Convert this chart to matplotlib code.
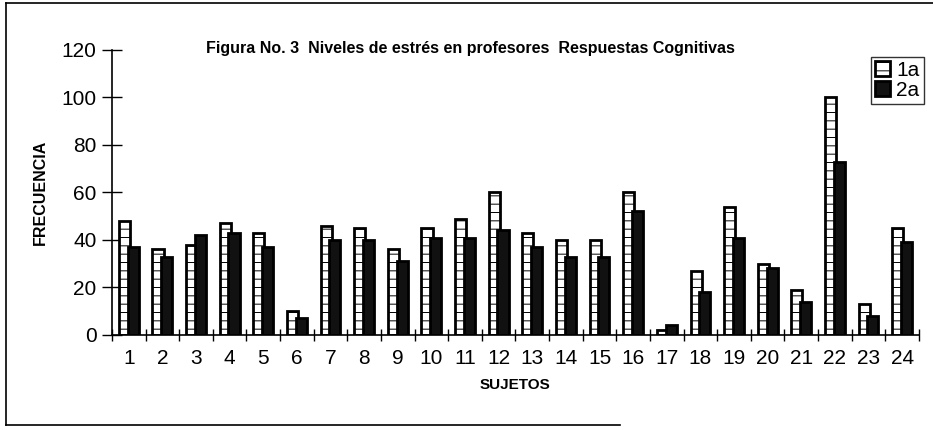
import matplotlib
matplotlib.use("Agg")
import matplotlib.pyplot as plt
from matplotlib.lines import Line2D
import numpy as np

plt.rcParams['font.family'] = ['Liberation Sans', 'DejaVu Sans']
plt.rcParams['hatch.linewidth'] = 0.7

# Datos
sujetos = [str(i) for i in range(1, 25)]
primera = [48, 36, 38, 47, 43, 10, 46, 45, 36, 45, 49, 60,
           43, 40, 40, 60, 2, 27, 54, 30, 19, 100, 13, 45]
segunda = [37, 33, 42, 43, 37, 7, 40, 40, 31, 41, 41, 44,
           37, 33, 33, 52, 4, 18, 41, 28, 14, 73, 8, 39]
yticks = [0, 20, 40, 60, 80, 100, 120]

fig = plt.figure(figsize=(9.33, 4.30), dpi=100)
ax = fig.add_axes([0.120, 0.221, 0.865, 0.663])

x = np.arange(1, len(sujetos) + 1)
w = 0.33
ax.bar(x - 0.13, primera, w, facecolor='white', edgecolor='black',
       linewidth=2.0, hatch='--', label='1a', zorder=2)
ax.bar(x + 0.13, segunda, w, facecolor='#111111', edgecolor='black',
       linewidth=2.0, label='2a', zorder=3)

ax.set_xlim(0.5, 24.5)
ax.set_ylim(0, 120)
ax.set_yticks(yticks)
ax.set_xticks(x)
ax.set_xticklabels(sujetos)
ax.set_xticks(np.arange(0.5, 25, 1), minor=True)
ax.tick_params(axis='x', which='major', length=0, pad=10, labelsize=15)
ax.tick_params(axis='x', which='minor', length=8, direction='inout', width=1)
ax.tick_params(axis='y', length=14, direction='inout', width=1, pad=4, labelsize=15)

for s in ['top', 'right']:
    ax.spines[s].set_visible(False)
ax.spines['left'].set_linewidth(1.2)
ax.spines['bottom'].set_linewidth(1.2)

ax.set_ylabel('FRECUENCIA', fontsize=11.5, fontweight='bold', labelpad=10)
ax.set_xlabel('SUJETOS', fontsize=11, fontweight='bold', labelpad=7)
fig.text(0.504, 0.888, 'Figura No. 3  Niveles de estrés en profesores  Respuestas Cognitivas',
         ha='center', va='center', fontsize=11.5, fontweight='bold')

leg = ax.legend(loc='upper right', bbox_to_anchor=(0.990, 0.868),
                bbox_transform=fig.transFigure, fontsize=15, frameon=True,
                fancybox=False, edgecolor='black', handlelength=0.7,
                handleheight=0.7, handletextpad=0.3, borderpad=0.2,
                labelspacing=0.05, borderaxespad=0)
leg.get_frame().set_linewidth(1.0)

# marco de la figura
fig.add_artist(Line2D([0.006, 1.0], [0.993, 0.993], color='black', lw=1.2))
fig.add_artist(Line2D([0.006, 0.006], [0.012, 0.993], color='black', lw=1.2))
fig.add_artist(Line2D([0.006, 0.665], [0.012, 0.012], color='black', lw=1.2))

fig.savefig('out.png', dpi=100)
